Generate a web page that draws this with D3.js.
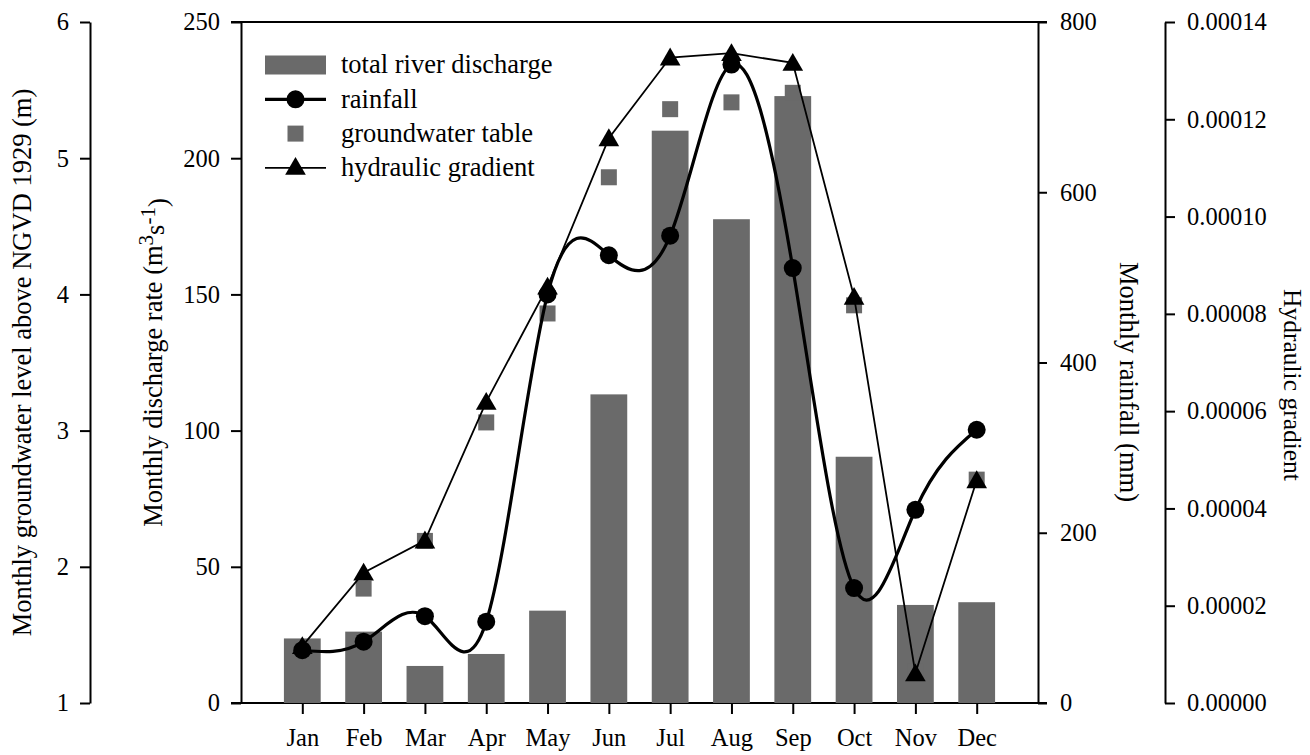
<!DOCTYPE html>
<html>
<head>
<meta charset="utf-8">
<script src="https://cdn.jsdelivr.net/npm/d3@7"></script>
<style>
body { margin: 0; background: #fff; }
svg { font-family: "Liberation Serif", "Times New Roman", serif; }
</style>
</head>
<body>
<svg id="chart" width="1310" height="755"></svg>
<script>
let months = ['Jan', 'Feb', 'Mar', 'Apr', 'May', 'Jun', 'Jul', 'Aug', 'Sep', 'Oct', 'Nov', 'Dec']
let discharge = [23.7, 26.2, 13.6, 18.0, 33.9, 113.3, 210.1, 177.6, 222.8, 90.4, 36.0, 37.0]
let rainfall = [62, 72, 102, 95.5, 480, 526, 549, 750, 511, 135, 227, 321]
let groundwater = [1.40, 1.84, 2.19, 3.06, 3.86, 4.86, 5.36, 5.41, 5.48, 3.92, 1.23, 2.64]
let gradient = [0.0000117, 0.0000268, 0.0000334, 0.0000619, 0.0000856, 0.0001161, 0.0001327, 0.0001336, 0.0001316, 0.0000835, 0.0000061, 0.0000458]

let gwTicks = [1, 2, 3, 4, 5, 6]
let qTicks = [0, 50, 100, 150, 200, 250]
let rainTicks = [0, 200, 400, 600, 800]
let hgTicks = [0, 0.00002, 0.00004, 0.00006, 0.00008, 0.0001, 0.00012, 0.00014]

let legendItems = ['total river discharge', 'rainfall', 'groundwater table', 'hydraulic gradient']

let gray = '#6a6a6a'
let plotTop = 22, plotBottom = 703, plotLeft = 241, plotRight = 1038

let svg = d3.select('#chart')

let x = d3.scalePoint().domain(months).range([plotLeft, plotRight]).padding(1)
let yQ = d3.scaleLinear().domain([0, 250]).range([plotBottom, plotTop])
let yR = d3.scaleLinear().domain([0, 800]).range([plotBottom, plotTop])
let yG = d3.scaleLinear().domain([1, 6]).range([plotBottom, plotTop])
let yH = d3.scaleLinear().domain([0, 0.00014]).range([plotBottom, plotTop])

let styleAxis = g => {
	g.attr('font-size', null).attr('font-family', null)
	g.selectAll('path, line').attr('stroke', '#000').attr('stroke-width', 2)
	g.selectAll('text').attr('fill', '#000').style('font-size', '24.5px')
}

// groundwater axis (far left)
svg.append('g').attr('transform', 'translate(90,0)')
	.call(d3.axisLeft(yG).tickValues(gwTicks).tickFormat(d3.format('d')).tickSize(10).tickSizeOuter(0).tickPadding(11))
	.call(styleAxis)

// discharge axis
svg.append('g').attr('transform', 'translate(' + plotLeft + ',0)')
	.call(d3.axisLeft(yQ).tickValues(qTicks).tickSize(10).tickSizeOuter(0).tickPadding(11))
	.call(styleAxis)

// rainfall axis
svg.append('g').attr('transform', 'translate(' + plotRight + ',0)')
	.call(d3.axisRight(yR).tickValues(rainTicks).tickSize(9).tickSizeOuter(0).tickPadding(13))
	.call(styleAxis)

// hydraulic gradient axis
svg.append('g').attr('transform', 'translate(1165,0)')
	.call(d3.axisRight(yH).tickValues(hgTicks).tickFormat(d => d.toFixed(5)).tickSize(10).tickSizeOuter(0).tickPadding(12))
	.call(styleAxis)

// month axis
let xAxis = svg.append('g').attr('transform', 'translate(0,' + plotBottom + ')')
	.call(d3.axisBottom(x).tickSize(11).tickPadding(15))
	.call(styleAxis)
xAxis.select('.domain').remove()

// frame top + bottom
svg.append('line').attr('x1', plotLeft - 10).attr('x2', plotRight + 9).attr('y1', plotTop).attr('y2', plotTop).attr('stroke', '#000').attr('stroke-width', 2)
svg.append('line').attr('x1', plotLeft - 10).attr('x2', plotRight + 9).attr('y1', plotBottom).attr('y2', plotBottom).attr('stroke', '#000').attr('stroke-width', 2)

let barW = x.step() * 0.6
let plot = svg.append('g')

plot.selectAll('rect.bar').data(discharge).enter().append('rect')
	.attr('class', 'bar')
	.attr('fill', gray)
	.attr('x', (d, i) => x(months[i]) - barW / 2)
	.attr('y', d => yQ(d))
	.attr('width', barW)
	.attr('height', d => yQ(0) - yQ(d))

plot.selectAll('rect.gw').data(groundwater).enter().append('rect')
	.attr('class', 'gw')
	.attr('fill', gray)
	.attr('x', (d, i) => x(months[i]) - 8)
	.attr('y', d => yG(d) - 8)
	.attr('width', 16)
	.attr('height', 16)

let rainLine = d3.line().x((d, i) => x(months[i])).y(d => yR(d)).curve(d3.curveNatural)
plot.append('path').attr('d', rainLine(rainfall)).attr('fill', 'none').attr('stroke', '#000').attr('stroke-width', 3.2)
plot.selectAll('circle.rain').data(rainfall).enter().append('circle')
	.attr('class', 'rain')
	.attr('cx', (d, i) => x(months[i]))
	.attr('cy', d => yR(d))
	.attr('r', 9)
	.attr('fill', '#000')

let hgLine = d3.line().x((d, i) => x(months[i])).y(d => yH(d))
plot.append('path').attr('d', hgLine(gradient)).attr('fill', 'none').attr('stroke', '#000').attr('stroke-width', 1.8)
let tri = d3.symbol().type(d3.symbolTriangle).size(185)
plot.selectAll('path.hg').data(gradient).enter().append('path')
	.attr('class', 'hg')
	.attr('d', tri)
	.attr('transform', (d, i) => 'translate(' + x(months[i]) + ',' + (yH(d) + 2) + ')')
	.attr('fill', '#000')

// legend
let legend = svg.append('g').attr('transform', 'translate(265,65)')
let rowH = 34.3
legend.append('rect').attr('x', 0).attr('y', -9.5).attr('width', 61).attr('height', 19).attr('fill', gray)
legend.append('line').attr('x1', 0).attr('x2', 61).attr('y1', rowH).attr('y2', rowH).attr('stroke', '#000').attr('stroke-width', 3.2)
legend.append('circle').attr('cx', 30.5).attr('cy', rowH).attr('r', 9).attr('fill', '#000')
legend.append('rect').attr('x', 22.5).attr('y', rowH * 2 - 8).attr('width', 16).attr('height', 16).attr('fill', gray)
legend.append('line').attr('x1', 0).attr('x2', 61).attr('y1', rowH * 3).attr('y2', rowH * 3).attr('stroke', '#000').attr('stroke-width', 1.8)
legend.append('path').attr('d', tri).attr('transform', 'translate(30.5,' + (rowH * 3 + 1) + ')').attr('fill', '#000')
legend.selectAll('text').data(legendItems).enter().append('text')
	.attr('x', 76)
	.attr('y', (d, i) => i * rowH)
	.attr('dy', '0.32em')
	.style('font-size', '26.5px')
	.text(d => d)

// axis titles
let title = (tx, ty, rot) => svg.append('text')
	.attr('transform', 'translate(' + tx + ',' + ty + ') rotate(' + rot + ')')
	.attr('text-anchor', 'middle')
	.style('font-size', '26.5px')

title(31, 362.5, -90).text('Monthly groundwater level above NGVD 1929 (m)')
let qt = title(162, 362.5, -90)
qt.append('tspan').text('Monthly discharge rate (m')
qt.append('tspan').attr('dy', '-0.45em').style('font-size', '21px').text('3')
qt.append('tspan').attr('dy', '0.45em').text('s')
qt.append('tspan').attr('dy', '-0.45em').style('font-size', '21px').text('-1')
qt.append('tspan').attr('dy', '0.45em').text(')')
title(1120, 382, 90).text('Monthly rainfall (mm)')
title(1284, 385, 90).style('font-size', '25.5px').text('Hydraulic gradient')
</script>
</body>
</html>
